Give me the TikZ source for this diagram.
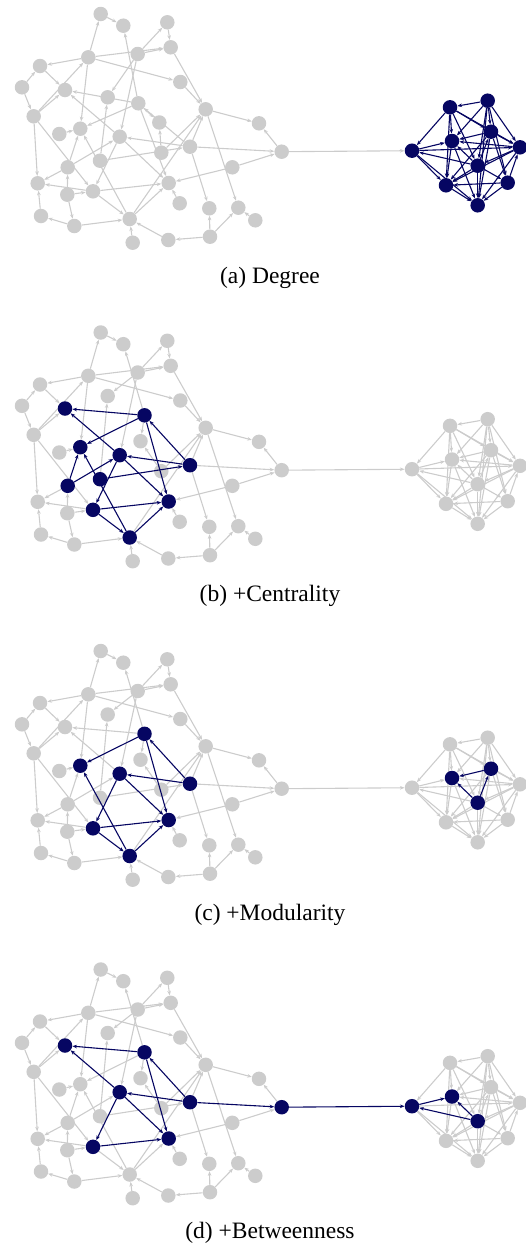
\documentclass[tikz,border=0pt]{standalone}
\usepackage{fontspec}
\setmainfont{Liberation Serif}
\usetikzlibrary{arrows.meta}

\definecolor{nodegray}{RGB}{204,204,204}
\definecolor{deepnavy}{RGB}{6,6,98}

\tikzset{
  vtx/.style={circle, inner sep=0pt, minimum size=14.5pt, draw=none},
  grayvtx/.style={vtx, fill=nodegray},
  bluevtx/.style={vtx, fill=deepnavy},
  grayedge/.style={draw=nodegray, line width=1.1pt, -{Stealth[length=4.6pt,width=3.6pt]}},
  blueedge/.style={draw=deepnavy, line width=1.1pt, -{Stealth[length=4.6pt,width=3.6pt]}},
  caption/.style={font=\fontsize{23.5}{27}\selectfont, anchor=base}
}

% mark vertices as highlighted in a given panel
\newcommand\markhl[2]{\foreach \v in {#2} {\expandafter\gdef\csname hl-#1-\v\endcsname{}}}

% vertex positions shared by all panels
\def\commonverts{
  n1/100.7/14, n2/123.3/25.7, n3/167.3/22.3, n4/170.7/47.3, n5/88.3/57.3,
  n6/137.7/54, n7/40/66, n8/22/87.3, n9/65/90, n12/180.3/82,
  n13/205.7/109.3, n14/259/123.3, n15/281.7/151.7, n16/33.7/116.3,
  n17/59.3/134, n18/80.3/128.7, n19/119.7/136.7, n21/190/146.7,
  n22/161.3/152.7, n23/100/160.7, n24/67.7/167.3, n25/232.3/167.3,
  n26/37.7/183.3, n27/67.3/194.7, n28/93/191.3, n29/168.7/183,
  n30/179.7/203.3, n31/209.3/208.3, n32/238.3/207.7, n33/255.3/220.3,
  n34/41/216, n35/74.3/226, n36/129.7/219, n37/132.7/242.7,
  n38/168.3/240, n39/210/236.7,
  r0/412/150.7, r1/450/107.3, r2/487.7/100.7, r3/491/131.7, r4/452/141,
  r5/520/147.3, r6/477.7/165.7, r7/446/185.3, r8/507.7/182.7, r9/477.7/205.3}

% directed edges, source/target
\def\edgelist{
  n1/n2, n5/n1, n6/n3, n3/n4, n5/n4, n6/n4, n5/n7, n5/n12, n5/n18,
  n16/n5, n16/n9, n7/n9, n8/n7, n8/n16, n11/n9, n6/n10, n23/n10,
  n11/n2, n6/n19, n11/n29, n11/n20, n22/n20, n17/n18, n11/n18,
  n24/n18, n36/n18, n19/n9, n19/n29, n16/n26, n16/n28, n24/n26,
  n24/n19, n27/n24, n27/n35, n19/n28, n27/n28, n28/n26, n28/n29,
  n28/n36, n23/n21, n21/n19, n21/n11, n21/n13, n21/n15, n21/n31,
  n22/n13, n36/n13, n12/n13, n4/n13, n13/n14, n15/n14, n25/n15,
  n25/n29, n30/n29, n36/n29, n13/n32, n39/n31, n39/n32, n33/n32,
  n39/n38, n38/n36, n37/n36, n35/n36, n35/n34, n34/n26, n15/r0,
  r1/r0, r6/r0, r0/r4, r0/r7, r0/r9, r0/r5,
  r2/r1, r1/r4, r1/r3, r1/r6, r1/r5, r1/r7,
  r2/r3, r2/r4, r2/r6, r2/r5, r2/r8, r2/r9,
  r3/r4, r3/r5, r3/r8, r6/r3, r3/r7, r3/r9,
  r6/r4, r4/r7, r4/r9, r5/r4,
  r5/r6, r5/r7, r8/r5, r5/r9,
  r6/r7, r6/r8, r6/r9, r7/r9, r8/r7, r8/r9}

% edge in gray unless both ends are highlighted
\newcommand\grayedgepass[3]{%
  \ifcsname hl-#1-#2\endcsname
    \ifcsname hl-#1-#3\endcsname\else\draw[grayedge] (#1-#2) -- (#1-#3);\fi
  \else
    \draw[grayedge] (#1-#2) -- (#1-#3);%
  \fi}
% edge in navy when both ends are highlighted
\newcommand\blueedgepass[3]{%
  \ifcsname hl-#1-#2\endcsname
    \ifcsname hl-#1-#3\endcsname\draw[blueedge] (#1-#2) -- (#1-#3);\fi
  \fi}
\newcommand\graydiscpass[2]{%
  \ifcsname hl-#1-#2\endcsname\else\node[grayvtx] (#1-#2-disc) at (#1-#2) {};\fi}
\newcommand\bluediscpass[2]{%
  \ifcsname hl-#1-#2\endcsname\node[bluevtx] (#1-#2-disc) at (#1-#2) {};\fi}

% panel: tag, vertical offset, caption, positions of the three vertices that move
\newcommand\drawpanel[4]{%
  \edef\allverts{\commonverts, #4}%
  \foreach \nm/\vx/\vy in \allverts {\node[vtx] (#1-\nm) at (\vx,\vy+#2) {};}
  \foreach \s/\t in \edgelist {\grayedgepass{#1}{\s}{\t}}
  \foreach \nm/\vx/\vy in \allverts {\graydiscpass{#1}{\nm}}
  \foreach \s/\t in \edgelist {\blueedgepass{#1}{\s}{\t}}
  \foreach \nm/\vx/\vy in \allverts {\bluediscpass{#1}{\nm}}
  \node[caption] (cap-#1) at (270,283.3+#2) {#3};
}

\begin{document}
\begin{tikzpicture}[x=1pt,y=-1pt]
  \useasboundingbox (0,0) rectangle (526,1245);

  \markhl{a}{r0,r1,r2,r3,r4,r5,r6,r7,r8,r9}
  \markhl{b}{n9,n11,n18,n19,n21,n23,n24,n28,n29,n36}
  \markhl{c}{n11,n18,n19,n21,n28,n29,n36,r3,r4,r6}
  \markhl{d}{n9,n11,n19,n21,n28,n29,n15,r0,r4,r6}

  \drawpanel{a}{0}{(a) Degree}{n10/107.7/97.3, n11/138.3/103.3, n20/159.3/122.5}
  \drawpanel{b}{318.5}{(b) +Centrality}{n10/107.7/77.5, n11/144.5/96.8, n20/140.5/122.7}
  \drawpanel{c}{637}{(c) +Modularity}{n10/107.7/77.5, n11/144.5/96.8, n20/140.5/122.7}
  \drawpanel{d}{955.5}{(d) +Betweenness}{n10/107.7/77.5, n11/144.5/96.8, n20/140.5/122.7}
\end{tikzpicture}
\end{document}
